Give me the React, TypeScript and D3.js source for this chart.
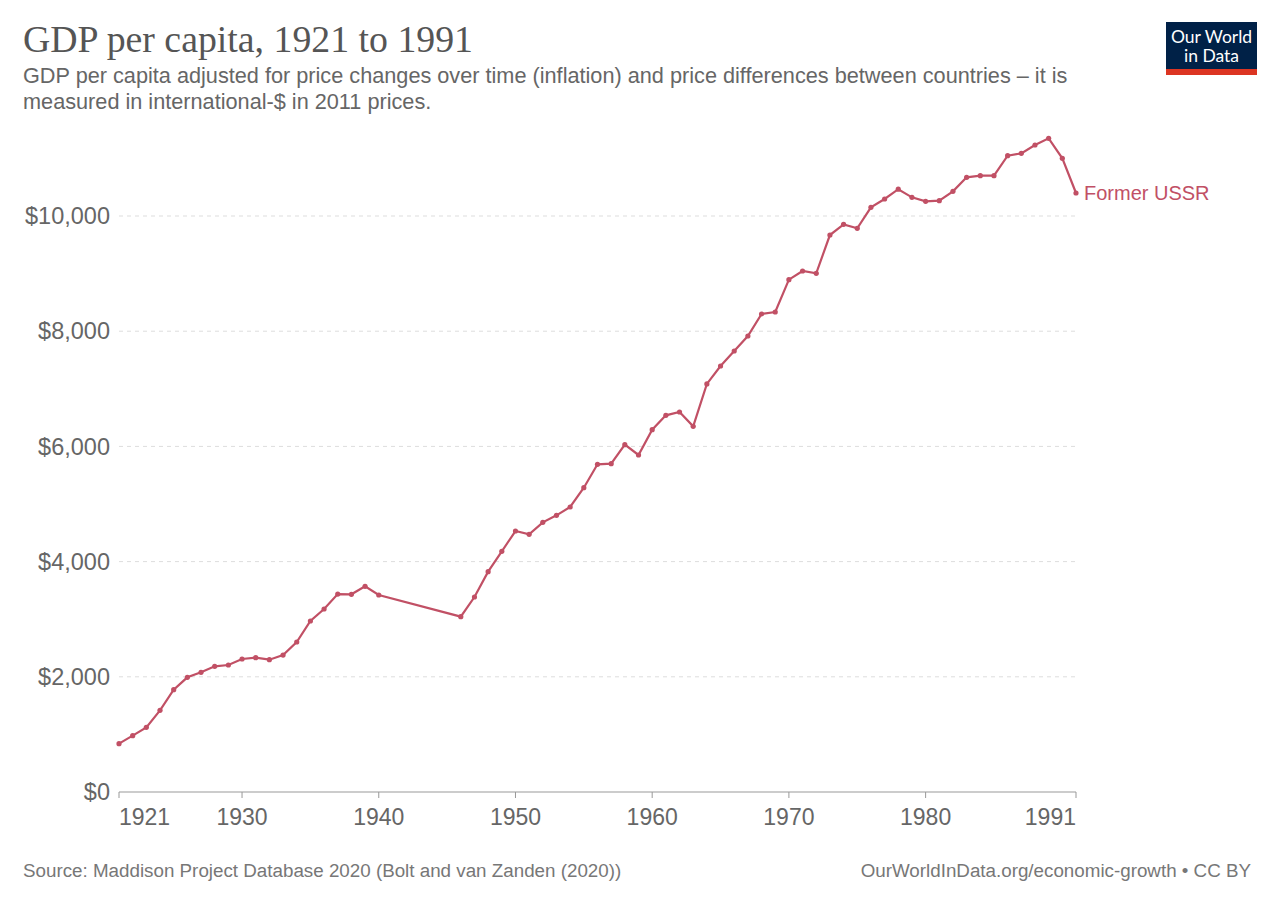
import * as d3 from "d3";

const years = [
  1921, 1922, 1923, 1924, 1925, 1926, 1927, 1928, 1929, 1930,
  1931, 1932, 1933, 1934, 1935, 1936, 1937, 1938, 1939, 1940,
  1946, 1947, 1948, 1949, 1950, 1951, 1952, 1953, 1954, 1955,
  1956, 1957, 1958, 1959, 1960, 1961, 1962, 1963, 1964, 1965,
  1966, 1967, 1968, 1969, 1970, 1971, 1972, 1973, 1974, 1975,
  1976, 1977, 1978, 1979, 1980, 1981, 1982, 1983, 1984, 1985,
  1986, 1987, 1988, 1989, 1990, 1991,
];

const gdp = [
  839, 978, 1123, 1418, 1776, 1991, 2078, 2182, 2205, 2309,
  2332, 2297, 2378, 2604, 2969, 3177, 3437, 3432, 3571, 3420,
  3044, 3385, 3825, 4178, 4531, 4473, 4682, 4803, 4948, 5283,
  5689, 5700, 6030, 5851, 6290, 6539, 6597, 6348, 7085, 7396,
  7656, 7917, 8299, 8333, 8895, 9045, 9005, 9670, 9855, 9786,
  10151, 10295, 10465, 10324, 10255, 10266, 10428, 10671, 10700, 10700,
  11047, 11088, 11233, 11349, 11002, 10399,
];

const yTicks = [0, 2000, 4000, 6000, 8000, 10000];
const xTicks = [1921, 1930, 1940, 1950, 1960, 1970, 1980, 1991];
const seriesName = "Former USSR";

const W = 1280;
const H = 904;
const left = 119;
const right = 1076;
const top = 216;
const bottom = 792;
const color = "#c15065";

export default function App() {
  const x = d3.scaleLinear().domain([1921, 1991]).range([left, right]);
  const y = d3.scaleLinear().domain([0, 10000]).range([bottom, top]);
  const points = years.map((yr, i) => ({ yr, v: gdp[i] }));
  const line = d3
    .line<{ yr: number; v: number }>()
    .x((d) => x(d.yr))
    .y((d) => y(d.v));
  const fmt = (v: number) => "$" + d3.format(",")(v);
  const last = points[points.length - 1];
  const sans = "'Liberation Sans', Arial, sans-serif";

  return (
    <svg
      width={W}
      height={H}
      style={{ position: "absolute", left: 0, top: 0, background: "#fff" }}
      fontFamily={sans}
    >
      <text x={23} y={52} fontFamily="'Liberation Serif', 'Times New Roman', serif" fontSize={37.8} fill="#555">
        GDP per capita, 1921 to 1991
      </text>
      <text x={23} y={83} fontSize={21.7} fill="#666">
        GDP per capita adjusted for price changes over time (inflation) and price differences between countries – it is
      </text>
      <text x={23} y={109} fontSize={21.7} fill="#666">
        measured in international-$ in 2011 prices.
      </text>

      {/* logo */}
      <rect x={1166} y={22} width={91} height={53} fill="#002147" />
      <rect x={1166} y={69} width={91} height={6} fill="#dc3522" />
      <text x={1211.5} y={43} textAnchor="middle" fill="#fff" fontSize={17.5} fontFamily="Lato, sans-serif">
        Our World
      </text>
      <text x={1211.5} y={62} textAnchor="middle" fill="#fff" fontSize={17.5} fontFamily="Lato, sans-serif">
        in Data
      </text>

      {/* grid + y labels */}
      {yTicks.map((t) => (
        <g key={t}>
          {t > 0 && (
            <line
              x1={left}
              x2={right}
              y1={y(t)}
              y2={y(t)}
              stroke="#ddd"
              strokeDasharray="4,4"
            />
          )}
          <text x={110} y={y(t)} dy="0.35em" textAnchor="end" fontSize={23.5} fill="#666">
            {fmt(t)}
          </text>
        </g>
      ))}

      {/* x axis */}
      <line x1={left} x2={right} y1={bottom} y2={bottom} stroke="#999" />
      {xTicks.map((t, i) => (
        <g key={t}>
          <line x1={x(t)} x2={x(t)} y1={bottom} y2={bottom + 6} stroke="#999" />
          <text
            x={x(t)}
            y={825}
            textAnchor={i === 0 ? "start" : i === xTicks.length - 1 ? "end" : "middle"}
            fontSize={23}
            fill="#666"
          >
            {t}
          </text>
        </g>
      ))}

      {/* series */}
      <path d={line(points) ?? ""} fill="none" stroke={color} strokeWidth={2.2} />
      {points.map((p) => (
        <circle key={p.yr} cx={x(p.yr)} cy={y(p.v)} r={2.6} fill={color} />
      ))}
      <text x={x(last.yr) + 8} y={y(last.v)} dy="0.35em" fontSize={20} fill={color}>
        {seriesName}
      </text>

      {/* footer */}
      <text x={23} y={877} fontSize={18.8} fill="#777">
        Source: Maddison Project Database 2020 (Bolt and van Zanden (2020))
      </text>
      <text x={1251} y={877} textAnchor="end" fontSize={18.8} fill="#777">
        OurWorldInData.org/economic-growth • CC BY
      </text>
    </svg>
  );
}
